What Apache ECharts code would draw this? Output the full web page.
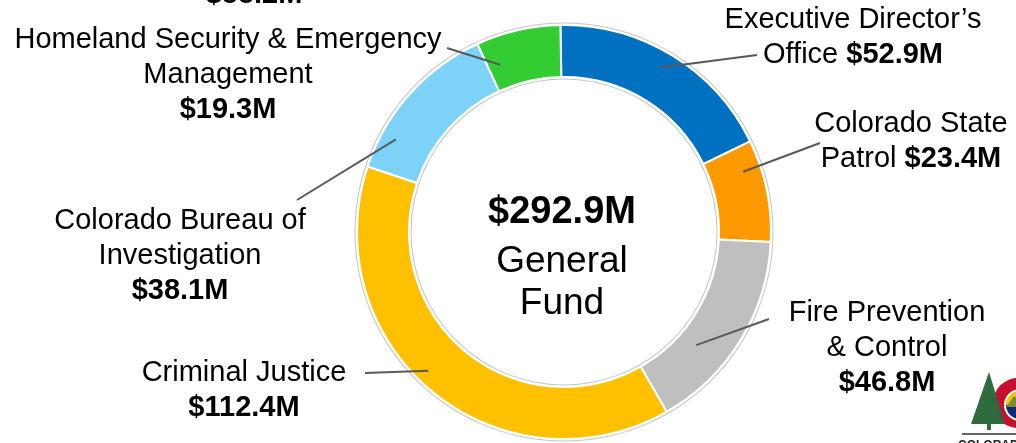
<!DOCTYPE html>
<html><head><meta charset="utf-8">
<script src="https://cdn.jsdelivr.net/npm/echarts@6/dist/echarts.min.js"></script>
<style>html,body{margin:0;padding:0;background:#fff}#c{width:1016px;height:443px}</style>
</head><body><div id="c"></div>
<script>
// ---- data ----
const categories = ['Executive Director’s\nOffice', 'Colorado State\nPatrol', 'Fire Prevention\n& Control', 'Criminal Justice', 'Colorado Bureau of\nInvestigation', 'Homeland Security & Emergency\nManagement'];
const values = [52.9, 23.4, 46.8, 112.4, 38.1, 19.3];
const amountInline = [true, true, false, false, false, false];
const centerLines = ['General', 'Fund'];
const offPageLabel = '$88.2M';
const logoText = 'COLORADO';

// ---- style / layout ----
const colors = ['#0070C0', '#FF9900', '#BFBFBF', '#FFC000', '#7DD3F7', '#33CC33'];
const FONT = "'Liberation Sans', Arial, sans-serif";
const CX = 564, CY = 232, R_IN = 155, R_OUT = 207, START = 91;
const labelCenters = [[853, 37], [911, 141], [887, 348], [244, 390], [180, 256], [228, 75]];
const lineEnds = [[757, 55], [820, 143], [769, 319], [365, 373], [297, 200], [447, 48]];
const anchorShiftDeg = [-1, -7, 9, 5, -13, -8];
const anchorRadius = [191, 189, 174, 194, 192, 179];

const total = values.reduce((a, b) => a + b, 0);
const fmt = v => '$' + v.toFixed(1) + 'M';

const chart = echarts.init(document.getElementById('c'), null, { renderer: 'canvas' });

function anchorPoint(i) {
  let cum = 0;
  for (let j = 0; j < i; j++) cum += values[j];
  const theta = ((90 - START) + (cum + values[i] / 2) / total * 360 + anchorShiftDeg[i]) * Math.PI / 180;
  return [CX + anchorRadius[i] * Math.sin(theta), CY - anchorRadius[i] * Math.cos(theta)];
}

const option = {
  backgroundColor: '#ffffff',
  animation: false,
  series: [
    { type: 'pie', silent: true, center: [CX, CY], radius: [R_IN - 2.5, R_OUT + 2.5], label: { show: false }, labelLine: { show: false },
      data: [{ value: 1, itemStyle: { color: '#c4c4c4' } }], z: 1 },
    { type: 'pie', silent: true, center: [CX, CY], radius: [R_IN - 1.5, R_OUT + 1.5], label: { show: false }, labelLine: { show: false },
      data: [{ value: 1, itemStyle: { color: '#ffffff' } }], z: 2 },
    {
      type: 'pie', z: 3,
      center: [CX, CY], radius: [R_IN, R_OUT], startAngle: START, clockwise: true,
      itemStyle: { borderColor: '#ffffff', borderWidth: 2 },
      data: values.map((v, i) => ({ name: categories[i], value: v, itemStyle: { color: colors[i] } })),
      label: { show: false }, labelLine: { show: false },
      emphasis: { disabled: true }
    },
    {
      type: 'pie', z: 5, silent: true,
      center: [CX, CY], radius: [R_IN, R_OUT], startAngle: START, clockwise: true,
      avoidLabelOverlap: false,
      itemStyle: { color: 'rgba(0,0,0,0)', borderWidth: 0 },
      data: values.map((v, i) => ({ name: categories[i], value: v })),
      label: {
        show: true, position: 'outside',
        fontFamily: FONT, fontSize: 29, color: '#000', lineHeight: 35,
        formatter: p => p.name + (amountInline[p.dataIndex] ? ' ' : '\n') + '{b|' + fmt(p.value) + '}',
        rich: { b: { fontFamily: FONT, fontSize: 29, fontWeight: 'bold', color: '#000', lineHeight: 35 } }
      },
      labelLine: { show: true, length: 10, length2: 10, lineStyle: { color: '#595959', width: 2 } },
      labelLayout: function (p) {
        const i = p.dataIndex;
        const a = anchorPoint(i);
        return {
          x: labelCenters[i][0], y: labelCenters[i][1],
          align: 'center', verticalAlign: 'middle',
          labelLinePoints: [a, a, lineEnds[i]]
        };
      },
      emphasis: { disabled: true }
    }
  ],
  graphic: [
    { type: 'text', x: 562, y: 213, style: { text: fmt(total), font: 'bold 38px ' + FONT, fill: '#000', textAlign: 'center', textVerticalAlign: 'middle' } },
    { type: 'text', x: 562, y: 262, style: { text: centerLines[0], font: '37px ' + FONT, fill: '#000', textAlign: 'center', textVerticalAlign: 'middle' } },
    { type: 'text', x: 562, y: 304, style: { text: centerLines[1], font: '37px ' + FONT, fill: '#000', textAlign: 'center', textVerticalAlign: 'middle' } },
    { type: 'text', x: 254, y: -5, style: { text: offPageLabel, font: 'bold 29px ' + FONT, fill: '#000', textAlign: 'center', textVerticalAlign: 'middle' } },
    // logo (partial, bottom-right)
    { type: 'circle', shape: { cx: 1018, cy: 403, r: 25 }, style: { fill: '#C8102E' } },
    { type: 'polygon', shape: { points: [[989, 372], [971, 424], [1005, 424]] }, style: { fill: '#2E6B3F' } },
    { type: 'polygon', shape: { points: [[993, 395], [1001, 418], [1005, 424], [997, 405]] }, style: { fill: '#6B3A6B', opacity: 0.8 } },
    { type: 'rect', shape: { x: 987, y: 424, width: 4, height: 6 }, style: { fill: '#2E6B3F' } },
    { type: 'circle', shape: { cx: 1020, cy: 405, r: 16 }, style: { fill: '#ffffff' } },
    { type: 'sector', shape: { cx: 1020, cy: 405, r: 14, startAngle: Math.PI, endAngle: 2 * Math.PI }, style: { fill: '#F2C500' } },
    { type: 'sector', shape: { cx: 1020, cy: 405, r: 14, startAngle: 0, endAngle: Math.PI }, style: { fill: '#0B2A7A' } },
    { type: 'polygon', shape: { points: [[1006, 407], [1014, 396], [1020, 402], [1026, 395], [1034, 407]] }, style: { fill: '#7E8A3A' } },
    { type: 'line', shape: { x1: 962, y1: 434, x2: 1016, y2: 434 }, style: { stroke: '#333', lineWidth: 1.5 } },
    { type: 'text', x: 958, y: 440, style: { text: logoText, font: 'bold 12px ' + FONT, fill: '#222', textAlign: 'left', textVerticalAlign: 'top' } }
  ]
};
chart.setOption(option);
</script>
</body></html>
